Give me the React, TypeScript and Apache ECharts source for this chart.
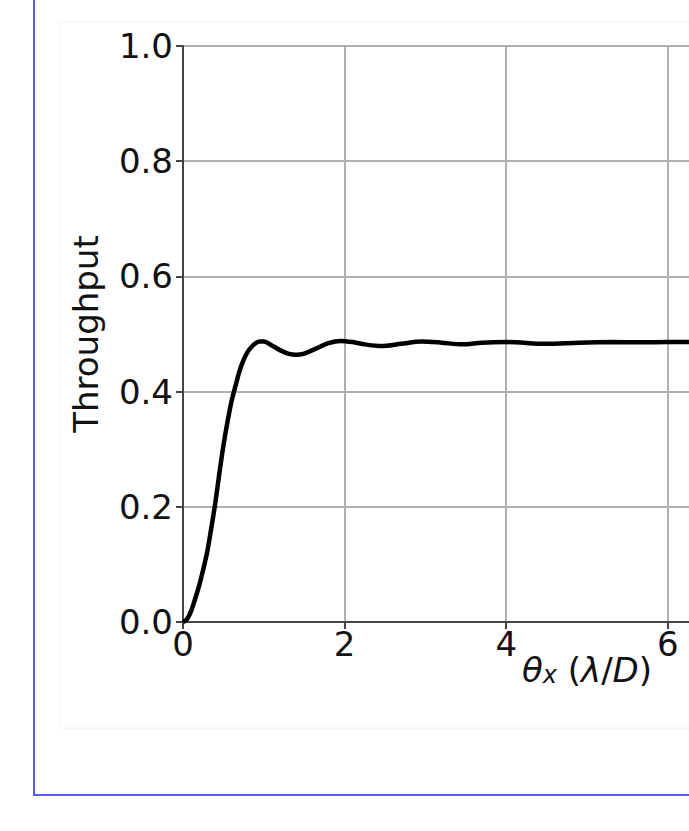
import React, { useEffect, useRef } from "react";
import * as echarts from "echarts";

const xValues = [0, 0.05, 0.1, 0.15, 0.2, 0.25, 0.3, 0.35, 0.4, 0.45, 0.5, 0.55, 0.6, 0.65, 0.7, 0.75, 0.8, 0.85, 0.9, 0.95, 1.0, 1.1, 1.2, 1.3, 1.4, 1.5, 1.65, 1.8, 1.95, 2.1, 2.25, 2.45, 2.7, 2.95, 3.2, 3.45, 3.7, 4.0, 4.5, 4.9, 5.3, 5.65, 6.0, 6.4];
const throughput = [0, 0.005, 0.019, 0.04, 0.063, 0.091, 0.122, 0.163, 0.207, 0.258, 0.306, 0.347, 0.383, 0.41, 0.436, 0.455, 0.469, 0.478, 0.484, 0.487, 0.487, 0.48, 0.472, 0.466, 0.464, 0.466, 0.475, 0.484, 0.488, 0.486, 0.482, 0.479, 0.483, 0.487, 0.485, 0.482, 0.485, 0.486, 0.483, 0.485, 0.486, 0.4855, 0.486, 0.486];
const yTicks = [0, 0.2, 0.4, 0.6, 0.8, 1.0];
const xTickStep = 2;
const xVisibleMax = 6.4;

const FONT = "DejaVu Sans";
const FS = 34;

export default function App() {
  const ref = useRef<HTMLDivElement>(null);
  useEffect(() => {
    if (!ref.current) return;
    const chart = echarts.init(ref.current, undefined, { renderer: "svg" });
    const data = xValues.map((x, i) => [x, throughput[i]]);
    chart.setOption({
      animation: false,
      backgroundColor: "#ffffff",
      graphic: [
        {
          type: "rect",
          shape: { x: 60, y: 22, width: 1200, height: 706 },
          style: { fill: "none", stroke: "#f2f2f2", lineWidth: 1 },
          silent: true,
        },
        {
          type: "rect",
          shape: { x: 34, y: -20, width: 1200, height: 815 },
          style: { fill: "none", stroke: "#5b5bf5", lineWidth: 2 },
          silent: true,
        },
      ],
      grid: {
        left: 183,
        top: 46,
        width: 808,
        height: 576,
        show: true,
        borderColor: "#444444",
        borderWidth: 2,
        containLabel: false,
      },
      xAxis: {
        type: "value",
        min: 0,
        max: 10,
        interval: xTickStep,
        axisLine: { show: true, onZero: false, lineStyle: { color: "#444444", width: 2 } },
        axisTick: { show: true, inside: false, length: 7, lineStyle: { color: "#444444", width: 2 } },
        splitLine: { show: true, lineStyle: { color: "#b0b0b0", width: 2 } },
        axisLabel: {
          color: "#111111",
          fontSize: FS,
          fontFamily: FONT,
          margin: 5,
          formatter: (v: number) => (v > xVisibleMax ? "" : String(v)),
        },
        name: "{it|θ}{sub|x}{n| (}{it|λ}{n|/}{it|D}{n|)}",
        nameLocation: "middle",
        nameGap: 25,
        nameMoveOverlap: false,
        nameTextStyle: {
          rich: {
            it: { fontStyle: "italic", fontSize: FS, fontFamily: FONT, color: "#111111", lineHeight: 40, verticalAlign: "bottom" },
            n: { fontSize: FS, fontFamily: FONT, color: "#111111", lineHeight: 40, verticalAlign: "bottom" },
            sub: { fontStyle: "italic", fontSize: 24, fontFamily: FONT, color: "#111111", lineHeight: 16, verticalAlign: "bottom" },
          },
        },
      },
      yAxis: {
        type: "value",
        min: yTicks[0],
        max: yTicks[yTicks.length - 1],
        interval: 0.2,
        axisLine: { show: true, lineStyle: { color: "#444444", width: 2 } },
        axisTick: { show: true, inside: false, length: 7, lineStyle: { color: "#444444", width: 2 } },
        splitLine: { show: true, lineStyle: { color: "#b0b0b0", width: 2 } },
        axisLabel: {
          color: "#111111",
          fontSize: FS,
          fontFamily: FONT,
          margin: 10,
          formatter: (v: number) => v.toFixed(1),
        },
        name: "Throughput",
        nameLocation: "middle",
        nameGap: 80,
        nameMoveOverlap: false,
        nameTextStyle: { color: "#111111", fontSize: FS, fontFamily: FONT },
      },
      series: [
        {
          type: "line",
          data,
          showSymbol: false,
          smooth: 0.3,
          clip: true,
          lineStyle: { color: "#000000", width: 4.5 },
        },
      ],
    });
    return () => chart.dispose();
  }, []);
  return (
    <div style={{ position: "fixed", left: 0, top: 0, width: 689, height: 831, overflow: "hidden", background: "#fff" }}>
      <div ref={ref} style={{ width: 1100, height: 831 }} />
    </div>
  );
}
